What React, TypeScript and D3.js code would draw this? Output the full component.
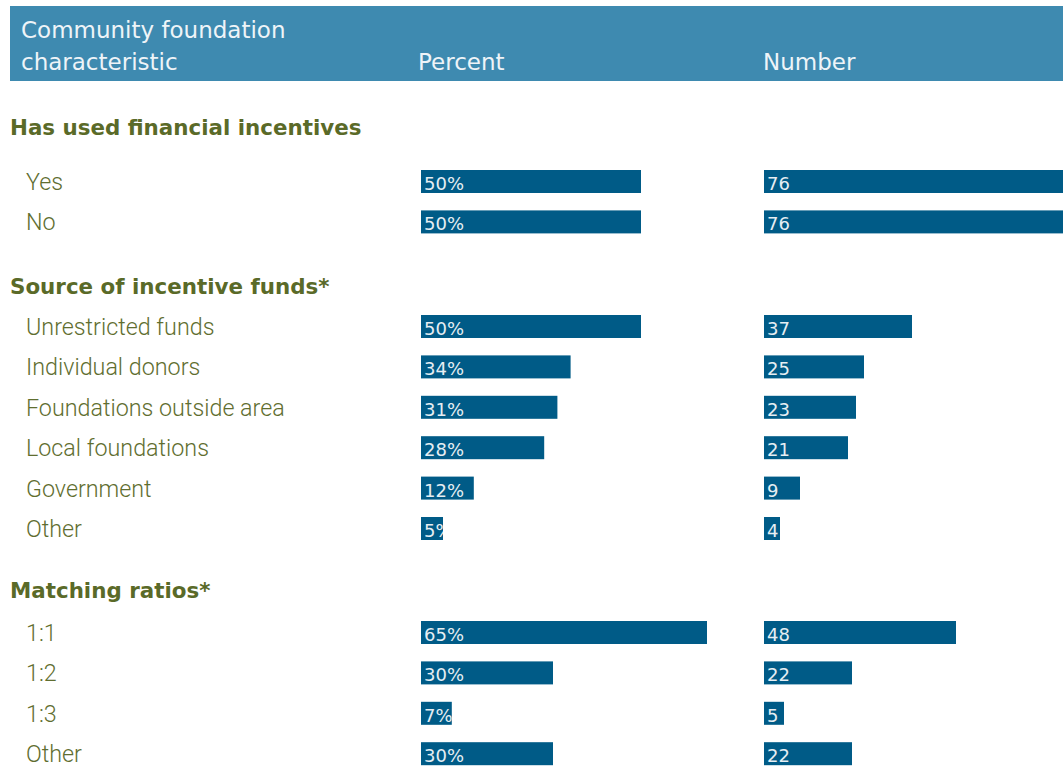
import React from "react";
import * as d3 from "d3";

const W = 1063;
const H = 771;

const headerCols = ["Community foundation\ncharacteristic", "Percent", "Number"];
const sectionTitles = ["Has used financial incentives", "Source of incentive funds*", "Matching ratios*"];

const financialLabels = ["Yes", "No"];
const financialPercent = [50, 50];
const financialNumber = [76, 76];

const sourceLabels = ["Unrestricted funds", "Individual donors", "Foundations outside area", "Local foundations", "Government", "Other"];
const sourcePercent = [50, 34, 31, 28, 12, 5];
const sourceNumber = [37, 25, 23, 21, 9, 4];

const ratioLabels = ["1:1", "1:2", "1:3", "Other"];
const ratioPercent = [65, 30, 7, 30];
const ratioNumber = [48, 22, 5, 22];

const sections = [
  { title: sectionTitles[0], labels: financialLabels, pct: financialPercent, num: financialNumber },
  { title: sectionTitles[1], labels: sourceLabels, pct: sourcePercent, num: sourceNumber },
  { title: sectionTitles[2], labels: ratioLabels, pct: ratioPercent, num: ratioNumber },
];

// layout
const titleBaselines = [135, 294, 598];
const firstBarTops = [170, 315, 621];
const rowStep = 40.4;
const barH = 23;

const HEADER_BG = "#3e8ab0";
const BAR = "#005b87";
const OLIVE = "#5a6a28";
const LABEL = "#5f6e30";
const BAR_TEXT = "#e6eef3";

export default function App() {
  const xPct = d3.scaleLinear().domain([0, 100]).range([421, 861]);
  const xNum = d3.scaleLinear().domain([0, 76]).range([764, 1068]);

  const headerLines = headerCols[0].split("\n");

  return (
    <svg width={W} height={H} style={{ position: "absolute", left: 0, top: 0, background: "#fff" }}>
      <rect x={10} y={6} width={W - 10} height={75} fill={HEADER_BG} />
      <g fontFamily="DejaVu Sans" fontSize={23} fill="#eef4f8">
        <text x={21} y={38}>{headerLines[0]}</text>
        <text x={21} y={70}>{headerLines[1]}</text>
        <text x={418} y={70}>{headerCols[1]}</text>
        <text x={763} y={70}>{headerCols[2]}</text>
      </g>
      {sections.map((s, si) => (
        <g key={si}>
          <text x={10} y={titleBaselines[si]} fontFamily="DejaVu Sans" fontWeight="bold" fontSize={21.4} fill={OLIVE}>
            {s.title}
          </text>
          {s.labels.map((lab, ri) => {
            const top = firstBarTops[si] + ri * rowStep;
            const base = top + barH - 3;
            const pw = xPct(s.pct[ri]) - xPct(0);
            const nw = xNum(s.num[ri]) - xNum(0);
            const c1 = `clip${si}_${ri}_p`;
            const c2 = `clip${si}_${ri}_n`;
            return (
              <g key={ri}>
                <text x={26} y={base} fontFamily="Roboto" fontWeight={300} fontSize={23.3} fill={LABEL}>
                  {lab}
                </text>
                <defs>
                  <clipPath id={c1}>
                    <rect x={xPct(0)} y={top} width={pw} height={barH} />
                  </clipPath>
                  <clipPath id={c2}>
                    <rect x={xNum(0)} y={top} width={nw} height={barH} />
                  </clipPath>
                </defs>
                <rect x={xPct(0)} y={top} width={pw} height={barH} fill={BAR} />
                <text x={xPct(0) + 3} y={base} clipPath={`url(#${c1})`} fontFamily="DejaVu Sans" fontSize={18} fill={BAR_TEXT}>
                  {`${s.pct[ri]}%`}
                </text>
                <rect x={xNum(0)} y={top} width={nw} height={barH} fill={BAR} />
                <text x={xNum(0) + 3} y={base} clipPath={`url(#${c2})`} fontFamily="DejaVu Sans" fontSize={18} fill={BAR_TEXT}>
                  {`${s.num[ri]}`}
                </text>
              </g>
            );
          })}
        </g>
      ))}
    </svg>
  );
}
